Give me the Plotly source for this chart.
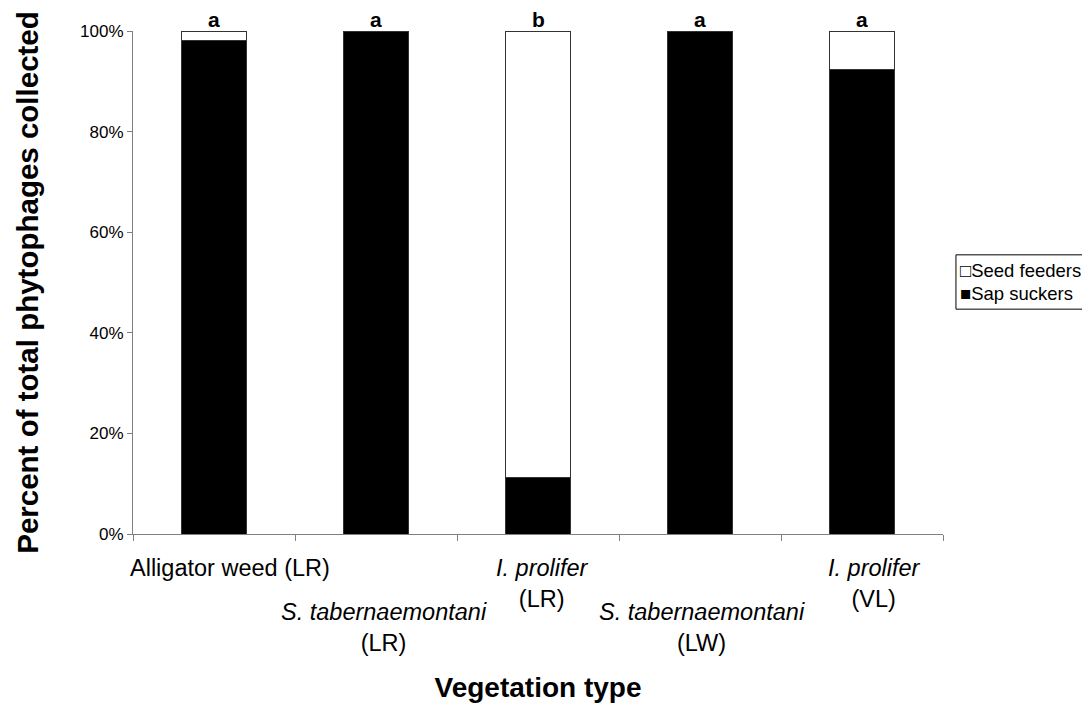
import plotly.graph_objects as go

categories = ["AW_LR", "ST_LR", "IP_LR", "ST_LW", "IP_VL"]
cat_labels = [
    "Alligator weed (LR)",
    "<i>S. tabernaemontani</i><br>(LR)",
    "<i>I. prolifer</i><br>(LR)",
    "<i>S. tabernaemontani</i><br>(LW)",
    "<i>I. prolifer</i><br>(VL)",
]
sap_suckers = [98.1, 100.0, 11.3, 100.0, 92.4]
seed_feeders = [1.9, 0.0, 88.7, 0.0, 7.6]
letters = ["a", "a", "b", "a", "a"]
y_ticks = [0, 20, 40, 60, 80, 100]
y_ticktext = ["0%", "20%", "40%", "60%", "80%", "100%"]

FONT = "Arial, Liberation Sans, sans-serif"
label_xshift = [16, 8, 4, 2, 12]  # excel nudges the wrapped labels a bit

fig = go.Figure()
fig.add_trace(go.Bar(x=categories, y=sap_suckers, name="Sap suckers",
                     marker=dict(color="black", line=dict(color="#333333", width=1))))
fig.add_trace(go.Bar(x=categories, y=seed_feeders, name="Seed feeders",
                     marker=dict(color="white", line=dict(color="#333333", width=1))))

# significance letters above bars
for c, l in zip(categories, letters):
    fig.add_annotation(x=c, y=100, xref="x", yref="y", text="<b>%s</b>" % l,
                       showarrow=False, yanchor="bottom", yshift=-2,
                       font=dict(family=FONT, size=21, color="black"))

# staggered category labels
for i, (c, t) in enumerate(zip(categories, cat_labels)):
    fig.add_annotation(x=c, y=0, xref="x", yref="y", text=t, showarrow=False,
                       yanchor="top", yshift=-19 if i % 2 == 0 else -63,
                       xshift=label_xshift[i],
                       font=dict(family=FONT, size=23.5, color="black"))

# legend box (excel style)
fig.add_shape(type="rect", xref="paper", yref="paper", x0=1.016, x1=1.176,
              y0=0.447, y1=0.555, line=dict(color="black", width=1),
              fillcolor="white")
for txt, yy in [("\u25a1Seed feeders", 0.523), ("\u25a0Sap suckers", 0.479)]:
    fig.add_annotation(x=1.0185, y=yy, xref="paper", yref="paper", text=txt,
                       showarrow=False, xanchor="left", yanchor="middle",
                       font=dict(family=FONT, size=18.5, color="black"))

# page body keeps an 8px margin, so the figure is 8px smaller
fig.update_layout(
    barmode="stack",
    bargap=0.6,
    width=1082, height=697,
    margin=dict(l=125, r=147, t=23, b=171),
    plot_bgcolor="white", paper_bgcolor="white",
    font=dict(family=FONT, size=17, color="black"),
    showlegend=False,
)
fig.update_xaxes(
    showticklabels=False, showline=True, linecolor="#808080", linewidth=1,
    ticks="outside", tickson="boundaries", ticklen=6, tickcolor="#808080",
    showgrid=False, range=[-0.5, 4.5], automargin=False,
    title=dict(text="<b>Vegetation type</b>", standoff=143,
               font=dict(family=FONT, size=28, color="black")),
)
fig.update_yaxes(
    range=[0, 100], tickvals=y_ticks, ticktext=y_ticktext,
    showline=True, linecolor="#808080", linewidth=1, ticks="outside",
    ticklen=5, tickcolor="#808080", showgrid=False, zeroline=False,
    automargin=False,
    title=dict(text="<b>Percent of total phytophages collected</b>", standoff=32,
               font=dict(family=FONT, size=29.5, color="black")),
)

fig.write_html("out.html")
